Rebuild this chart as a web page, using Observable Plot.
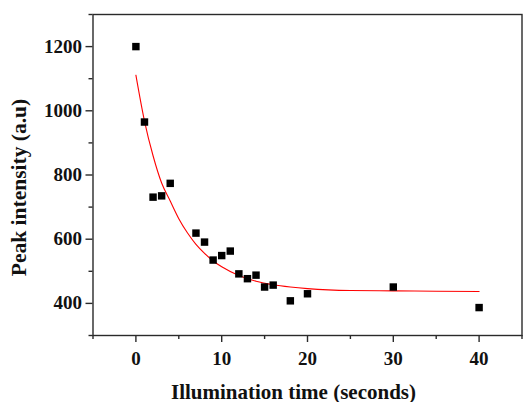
<!DOCTYPE html>
<html>
<head>
<meta charset="utf-8">
<script src="https://cdn.jsdelivr.net/npm/d3@7"></script>
<script src="https://cdn.jsdelivr.net/npm/@observablehq/plot@0.6"></script>
<style>
  html, body { margin: 0; padding: 0; background: #fff; }
  #chart svg { display: block; }
</style>
</head>
<body>
<div id="chart"></div>
<script>
// Measured points
const timeSec = [0, 1, 2, 3, 4, 7, 8, 9, 10, 11, 12, 13, 14, 15, 16, 18, 20, 30, 40];
const peakIntensity = [1200, 965, 731, 735, 774, 619, 591, 535, 549, 563, 492, 477, 488, 451, 457, 408, 430, 451, 387];

// Fitted curve
const fitTime = [0, 1, 2, 3, 4, 5, 6, 7, 8, 9, 10, 12, 14, 16, 18, 20, 25, 30, 35, 40];
const fitIntensity = [1111, 968, 860, 775, 719, 664, 620, 584, 556, 532, 514, 487, 469, 458, 451, 446, 440, 439, 438, 437];

// Ticks
const xMajorTicks = [0, 10, 20, 30, 40];
const xMinorTicks = [-5, 5, 15, 25, 35, 45];
const yMajorTicks = [400, 600, 800, 1000, 1200];
const yMinorTicks = [300, 500, 700, 900, 1100, 1300];

const xLabel = "Illumination time (seconds)";
const yLabel = "Peak intensity (a.u)";

const points = timeSec.map((t, i) => ({t, v: peakIntensity[i]}));
const fit = fitTime.map((t, i) => ({t, v: fitIntensity[i]}));

const axisColor = "#2a2a2a";
const font = "'Liberation Serif', 'Times New Roman', serif";

const chart = Plot.plot({
  width: 523,
  height: 402,
  marginTop: 14,
  marginBottom: 67,
  marginLeft: 92.5,
  marginRight: 1.5,
  style: {fontFamily: font, fontWeight: "bold", background: "#fff", color: "#111"},
  x: {domain: [-5, 45]},
  y: {domain: [300, 1300]},
  marks: [
    Plot.axisX({ticks: xMajorTicks, tickSize: 7, tickPadding: 9, tickFormat: d => String(d), fontSize: 19, label: null, stroke: axisColor, strokeWidth: 1.4, fill: "#111"}),
    Plot.axisX({ticks: xMinorTicks, tickSize: 4, text: null, label: null, stroke: axisColor, strokeWidth: 1.4}),
    Plot.axisY({ticks: yMajorTicks, tickSize: 7, tickPadding: 4, tickFormat: d => String(d), fontSize: 19, label: null, stroke: axisColor, strokeWidth: 1.4, fill: "#111"}),
    Plot.axisY({ticks: yMinorTicks, tickSize: 4, text: null, label: null, stroke: axisColor, strokeWidth: 1.4}),
    Plot.frame({stroke: axisColor, strokeWidth: 1.4}),
    Plot.line(fit, {x: "t", y: "v", stroke: "#ff0000", strokeWidth: 1.1, curve: "monotone-x"}),
    Plot.dot(points, {x: "t", y: "v", symbol: "square", r: 4.2, fill: "#000", stroke: "none"}),
    Plot.text([xLabel], {frameAnchor: "bottom", text: d => d, textAnchor: "middle", lineAnchor: "bottom", dy: 63, dx: -14, fontSize: 21, fontWeight: "bold", fill: "#111"}),
    Plot.text([yLabel], {frameAnchor: "left", text: d => d, textAnchor: "middle", rotate: -90, lineAnchor: "middle", dx: -73.5, dy: 12.5, fontSize: 21.5, fontWeight: "bold", fill: "#111"})
  ]
});
document.getElementById("chart").appendChild(chart);
</script>
</body>
</html>
